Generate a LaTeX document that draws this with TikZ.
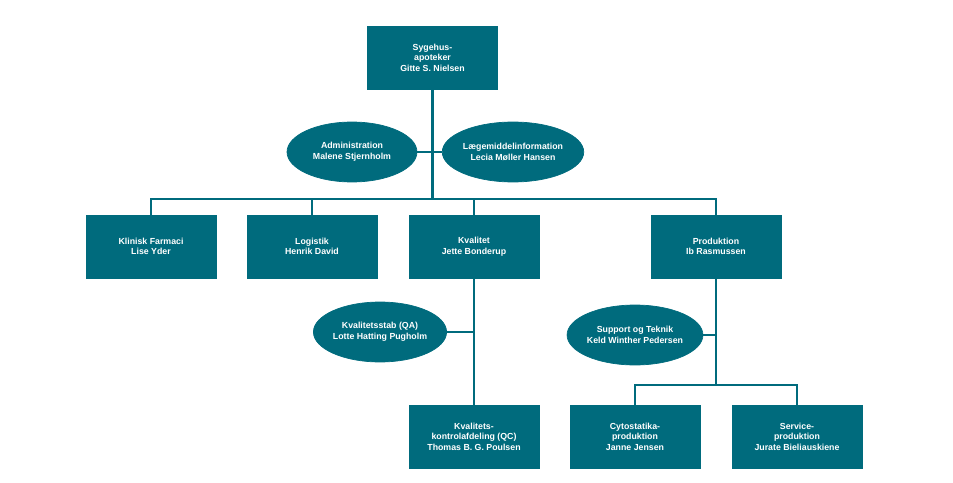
\documentclass[tikz,border=0pt]{standalone}
\usepackage{fontspec}
\setmainfont{Liberation Sans}
\usetikzlibrary{shapes.geometric}
\definecolor{petrol}{HTML}{006B7D}
\tikzset{
  unit/.style={fill=petrol, draw=petrol, minimum width=2.6cm, minimum height=1.26cm,
    text=white, align=center, font=\fontsize{5}{6}\selectfont\bfseries},
  staff/.style={ellipse, fill=petrol, draw=petrol, minimum width=2.6cm, minimum height=1.2cm,
    text=white, align=center, font=\fontsize{5}{6}\selectfont\bfseries, inner sep=0pt},
  link/.style={draw=petrol, line width=1.6pt}
}
\begin{document}
\begin{tikzpicture}[x=0.02cm, y=-0.02cm]
\useasboundingbox (0,0) rectangle (953,483);

% ledelse
\node[unit] (chef) at (432.5,57.5) {Sygehus-\\apoteker\\Gitte S. Nielsen};
\node[staff] (adm) at (352,152) {Administration\\Malene Stjernholm};
\node[staff] (info) at (513,152) {Lægemiddelinformation\\Lecia Møller Hansen};

% afdelinger
\node[unit] (klin) at (151,246.5) {Klinisk Farmaci\\Lise Yder};
\node[unit] (logi) at (312,246.5) {Logistik\\Henrik David};
\node[unit] (kval) at (474,246.5) {Kvalitet\\Jette Bonderup};
\node[unit] (prod) at (716,246.5) {Produktion\\Ib Rasmussen};

% under Kvalitet
\node[staff] (qa) at (380,332) {Kvalitetsstab (QA)\\Lotte Hatting Pugholm};
\node[unit] (qc) at (474,436.5) {Kvalitets-\\kontrolafdeling (QC)\\Thomas B. G. Poulsen};

% under Produktion
\node[staff] (sup) at (635,335) {Support og Teknik\\Keld Winther Pedersen};
\node[unit] (cyto) at (635,436.5) {Cytostatika-\\produktion\\Janne Jensen};
\node[unit] (serv) at (797,436.5) {Service-\\produktion\\Jurate Bieliauskiene};

\coordinate (bus) at (432.5,199);
\coordinate (pbus) at (716,385);

\draw[link] (chef) -- (bus);
\draw[link] (adm) -- (info);
\draw[link] (klin.north) |- (bus) -| (prod.north);
\draw[link] (logi.north) |- (bus);
\draw[link] (kval.north) |- (bus);
\draw[link] (kval) -- (qc);
\draw[link] (qa.east) -- (qa.east -| kval);
\draw[link] (prod) -- (pbus);
\draw[link] (sup.east) -- (sup.east -| prod);
\draw[link] (cyto.north) |- (pbus) -| (serv.north);
\end{tikzpicture}
\end{document}
